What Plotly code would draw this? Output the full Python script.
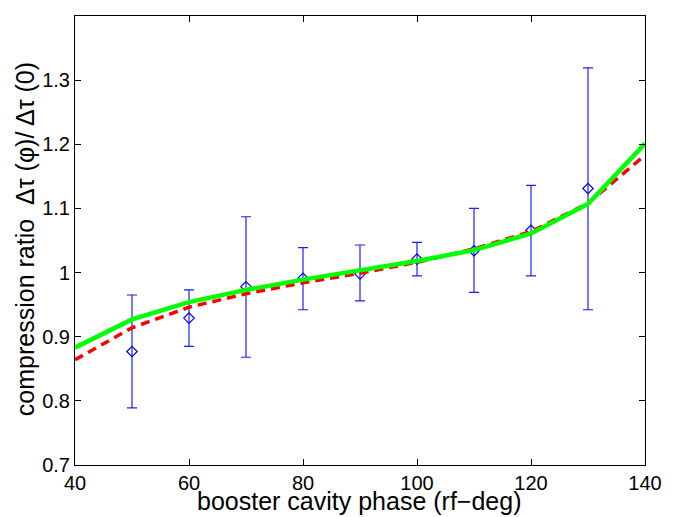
import plotly.graph_objects as go

# measured points with asymmetric error bars
phase = [50, 60, 70, 80, 90, 100, 110, 120, 130]
ratio = [0.877, 0.929, 0.978, 0.991, 0.998, 1.021, 1.034, 1.066, 1.131]
err_hi = [0.965, 0.973, 1.087, 1.039, 1.043, 1.047, 1.100, 1.136, 1.319]
err_lo = [0.789, 0.885, 0.868, 0.942, 0.956, 0.995, 0.969, 0.995, 0.942]

# model curves
model_phase = [40, 50, 60, 70, 80, 90, 100, 110, 120, 130, 140]
green_ratio = [0.883, 0.927, 0.954, 0.973, 0.989, 1.003, 1.018, 1.035, 1.061, 1.107, 1.201]
red_ratio = [0.864, 0.914, 0.946, 0.967, 0.984, 0.999, 1.016, 1.037, 1.064, 1.108, 1.183]

x_ticks = [40, 60, 80, 100, 120, 140]
y_ticks = [0.7, 0.8, 0.9, 1.0, 1.1, 1.2, 1.3, 1.4]
y_labels = ['0.7', '0.8', '0.9', '1', '1.1', '1.2', '1.3', '1.4']

FONT = 'Liberation Sans, Arial, sans-serif'

fig = go.Figure()

fig.add_trace(go.Scatter(
    x=phase, y=ratio,
    mode='markers',
    marker=dict(symbol='diamond-open', size=8, color='rgb(0,0,255)',
                line=dict(width=1.2, color='rgb(0,0,255)')),
    error_y=dict(type='data', symmetric=False,
                 array=[h - r for h, r in zip(err_hi, ratio)],
                 arrayminus=[r - l for r, l in zip(ratio, err_lo)],
                 color='rgb(30,30,255)', thickness=1.2, width=5),
    showlegend=False,
))

fig.add_trace(go.Scatter(
    x=model_phase, y=red_ratio, mode='lines',
    line=dict(color='rgb(255,0,0)', width=3.5, dash='9px,6px'),
    showlegend=False,
))

fig.add_trace(go.Scatter(
    x=model_phase, y=green_ratio, mode='lines',
    line=dict(color='rgb(0,255,0)', width=4.5),
    showlegend=False,
))

axis_common = dict(
    showline=True, linecolor='black', linewidth=1, mirror='ticks',
    ticks='inside', ticklen=6, tickcolor='black', tickwidth=1,
    showgrid=False, zeroline=False, automargin=False,
    tickfont=dict(family=FONT, size=20, color='black'),
)

fig.update_xaxes(range=[40, 140], tickvals=x_ticks, **axis_common)
fig.update_yaxes(range=[0.7, 1.4], tickvals=y_ticks, ticktext=y_labels,
                 **axis_common)

# axis titles placed as annotations for exact positioning
fig.add_annotation(text='booster cavity phase (rf\u2212deg)',
                   xref='paper', yref='paper', x=0.498, y=-0.08,
                   xanchor='center', yanchor='middle', showarrow=False,
                   font=dict(family=FONT, size=25, color='black'))
fig.add_annotation(text='compression ratio  \u0394\u03c4 (\u03c6)/ \u0394\u03c4 (0)',
                   xref='paper', yref='paper', x=-0.088, y=0.104,
                   xanchor='center', yanchor='bottom', textangle=-90,
                   showarrow=False,
                   font=dict(family=FONT, size=25, color='black'))

# page body has an 8px default margin, so shrink the figure to fit
fig.update_layout(
    width=666, height=509,
    margin=dict(l=67, r=29, t=8, b=52),
    paper_bgcolor='white', plot_bgcolor='white',
)

fig.write_html("out.html")
